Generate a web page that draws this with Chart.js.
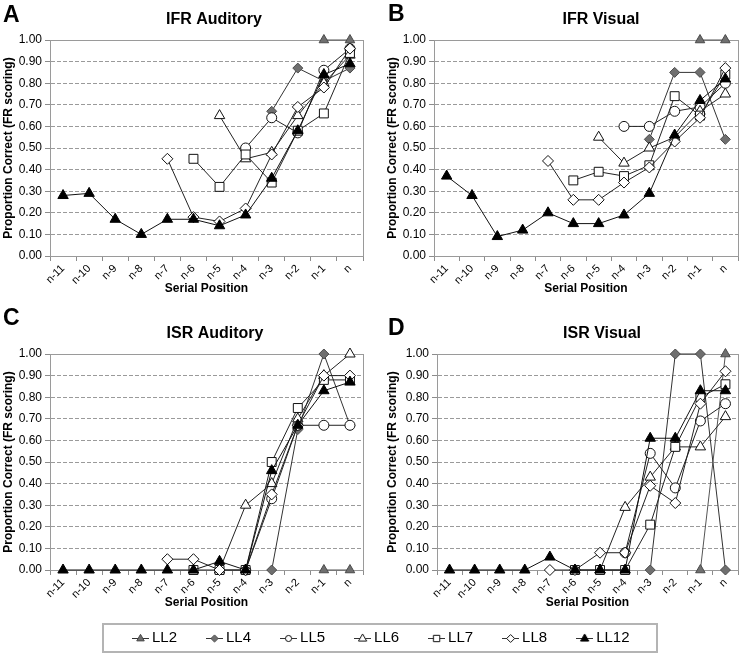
<!DOCTYPE html>
<html>
<head>
<meta charset="utf-8">
<script src="https://cdn.jsdelivr.net/npm/chart.js@4.4.0/dist/chart.umd.min.js"></script>
<style>
body { margin: 0; background: #fff; width: 750px; height: 654px; position: relative; overflow: hidden; }
canvas { position: absolute; }
#legendBox { position: absolute; left: 102px; top: 623px; width: 552px; height: 26px; border: 2px solid #b4b4b4; }
</style>
</head>
<body>
<div id="legendBox"></div>
<canvas id="chartA" width="375" height="300" style="left:0px;top:0px"></canvas>
<canvas id="chartB" width="375" height="300" style="left:375px;top:0px"></canvas>
<canvas id="chartC" width="375" height="314" style="left:0px;top:300px"></canvas>
<canvas id="chartD" width="375" height="314" style="left:375px;top:300px"></canvas>
<canvas id="legendChart" width="742" height="100" style="left:12px;top:597px"></canvas>
<script>
var FONT = '"Liberation Sans", Arial, sans-serif';

var positions = ['n-11', 'n-10', 'n-9', 'n-8', 'n-7', 'n-6', 'n-5', 'n-4', 'n-3', 'n-2', 'n-1', 'n'];
var seriesNames = ['LL2', 'LL4', 'LL5', 'LL6', 'LL7', 'LL8', 'LL12'];

// A - IFR Auditory
var ifrAudLL2  = [null, null, null, null, null, null, null, null, null, null, 1.00, 1.00];
var ifrAudLL4  = [null, null, null, null, null, null, null, null, 0.67, 0.87, 0.81, 0.87];
var ifrAudLL5  = [null, null, null, null, null, null, null, 0.50, 0.64, 0.57, 0.86, 0.96];
var ifrAudLL6  = [null, null, null, null, null, null, 0.65, 0.45, 0.48, 0.65, 0.80, 0.93];
var ifrAudLL7  = [null, null, null, null, null, 0.45, 0.32, 0.47, 0.34, 0.58, 0.66, 0.94];
var ifrAudLL8  = [null, null, null, null, 0.45, 0.18, 0.16, 0.22, 0.47, 0.69, 0.78, 0.96];
var ifrAudLL12 = [0.28, 0.29, 0.17, 0.10, 0.17, 0.17, 0.14, 0.19, 0.36, 0.58, 0.84, 0.89];

// B - IFR Visual
var ifrVisLL2  = [null, null, null, null, null, null, null, null, null, null, 1.00, 1.00];
var ifrVisLL4  = [null, null, null, null, null, null, null, null, 0.54, 0.85, 0.85, 0.54];
var ifrVisLL5  = [null, null, null, null, null, null, null, 0.60, 0.60, 0.67, 0.69, 0.80];
var ifrVisLL6  = [null, null, null, null, null, null, 0.55, 0.43, 0.50, 0.55, 0.67, 0.75];
var ifrVisLL7  = [null, null, null, null, null, 0.35, 0.39, 0.37, 0.42, 0.74, 0.65, 0.84];
var ifrVisLL8  = [null, null, null, null, 0.44, 0.26, 0.26, 0.34, 0.41, 0.53, 0.64, 0.87];
var ifrVisLL12 = [0.37, 0.28, 0.09, 0.12, 0.20, 0.15, 0.15, 0.19, 0.29, 0.56, 0.72, 0.82];

// C - ISR Auditory
var isrAudLL2  = [null, null, null, null, null, null, null, null, null, null, 0.00, 0.00];
var isrAudLL4  = [null, null, null, null, null, null, null, null, 0.00, 0.65, 1.00, 0.67];
var isrAudLL5  = [null, null, null, null, null, null, null, 0.00, 0.33, 0.67, 0.67, 0.67];
var isrAudLL6  = [null, null, null, null, null, null, 0.00, 0.30, 0.40, 0.70, 0.90, 1.00];
var isrAudLL7  = [null, null, null, null, null, 0.00, 0.00, 0.00, 0.50, 0.75, 0.88, 0.88];
var isrAudLL8  = [null, null, null, null, 0.05, 0.05, 0.00, 0.00, 0.35, 0.67, 0.90, 0.90];
var isrAudLL12 = [0.00, 0.00, 0.00, 0.00, 0.00, 0.00, 0.04, 0.00, 0.46, 0.67, 0.83, 0.87];

// D - ISR Visual
var isrVisLL2  = [null, null, null, null, null, null, null, null, null, null, 0.00, 1.00];
var isrVisLL4  = [null, null, null, null, null, null, null, null, 0.00, 1.00, 1.00, 0.00];
var isrVisLL5  = [null, null, null, null, null, null, null, 0.08, 0.54, 0.38, 0.69, 0.77];
var isrVisLL6  = [null, null, null, null, null, null, 0.00, 0.29, 0.43, 0.57, 0.57, 0.71];
var isrVisLL7  = [null, null, null, null, null, 0.00, 0.00, 0.00, 0.21, 0.57, 0.80, 0.86];
var isrVisLL8  = [null, null, null, null, 0.00, 0.00, 0.08, 0.08, 0.39, 0.31, 0.77, 0.92];
var isrVisLL12 = [0.00, 0.00, 0.00, 0.00, 0.06, 0.00, 0.00, 0.00, 0.61, 0.61, 0.83, 0.83];

var seriesLook = [
    { shape: 'triangle', radius: 5.5, fill: '#6f6f6f', edge: '#4a4a4a', line: '#555' },
    { shape: 'rectRot',  radius: 5,   fill: '#6f6f6f', edge: '#4a4a4a', line: '#333' },
    { shape: 'circle',   radius: 5,   fill: '#ffffff', edge: '#111',    line: '#222' },
    { shape: 'triangle', radius: 6,   fill: '#ffffff', edge: '#111',    line: '#222' },
    { shape: 'rect',     radius: 6.3, fill: '#ffffff', edge: '#111',    line: '#222' },
    { shape: 'rectRot',  radius: 5.5, fill: '#ffffff', edge: '#111',    line: '#222' },
    { shape: 'triangle', radius: 6,   fill: '#000000', edge: '#000',    line: '#111' }
];

var panels = [
    { canvas: 'chartA', letter: 'A', title: 'IFR Auditory', padLeft: 0, padTop: 40, axisWidth: 50,
      letterX: 3, letterY: 22, titleX: 214, titleY: 24,
      series: [ifrAudLL2, ifrAudLL4, ifrAudLL5, ifrAudLL6, ifrAudLL7, ifrAudLL8, ifrAudLL12] },
    { canvas: 'chartB', letter: 'B', title: 'IFR Visual', padLeft: 9, padTop: 40, axisWidth: 50,
      letterX: 13, letterY: 21, titleX: 226, titleY: 24,
      series: [ifrVisLL2, ifrVisLL4, ifrVisLL5, ifrVisLL6, ifrVisLL7, ifrVisLL8, ifrVisLL12] },
    { canvas: 'chartC', letter: 'C', title: 'ISR Auditory', padLeft: 0, padTop: 54, axisWidth: 50,
      letterX: 3, letterY: 25, titleX: 215, titleY: 38,
      series: [isrAudLL2, isrAudLL4, isrAudLL5, isrAudLL6, isrAudLL7, isrAudLL8, isrAudLL12] },
    { canvas: 'chartD', letter: 'D', title: 'ISR Visual', padLeft: 9, padTop: 54, axisWidth: 53,
      letterX: 13, letterY: 35, titleX: 227, titleY: 38,
      series: [isrVisLL2, isrVisLL4, isrVisLL5, isrVisLL6, isrVisLL7, isrVisLL8, isrVisLL12] }
];

/* plot frame, panel letter and panel title */
var panelDecor = {
    id: 'panelDecor',
    beforeDatasetsDraw: function (chart) {
        var a = chart.chartArea;
        var ctx = chart.ctx;
        ctx.save();
        ctx.strokeStyle = '#9a9a9a';
        ctx.lineWidth = 1;
        ctx.strokeRect(Math.round(a.left) + 0.5, Math.round(a.top) + 0.5,
                       Math.round(a.right - a.left), Math.round(a.bottom - a.top));
        ctx.restore();
    },
    afterDraw: function (chart, args, opts) {
        if (!opts || !opts.title) return;
        var ctx = chart.ctx;
        ctx.save();
        ctx.fillStyle = '#000';
        ctx.textBaseline = 'alphabetic';
        ctx.textAlign = 'left';
        ctx.font = 'bold 23px ' + FONT;
        ctx.fillText(opts.letter, opts.letterX, opts.letterY);
        ctx.textAlign = 'center';
        ctx.font = 'bold 16px ' + FONT;
        ctx.fillText(opts.title, opts.titleX, opts.titleY);
        ctx.restore();
    }
};

function buildDatasets(seriesList) {
    var sets = [];
    for (var i = 0; i < seriesNames.length; i++) {
        var look = seriesLook[i];
        sets.push({
            label: seriesNames[i],
            data: seriesList ? seriesList[i] : [],
            order: seriesNames.length - 1 - i,   // later series on top, like the original
            borderColor: look.line,
            borderWidth: 1,
            tension: 0,
            fill: false,
            clip: false,
            pointStyle: look.shape,
            pointRadius: look.radius,
            pointHoverRadius: look.radius,
            pointBackgroundColor: look.fill,
            pointBorderColor: look.edge,
            pointBorderWidth: 1
        });
    }
    return sets;
}

function makePanel(p) {
    return new Chart(document.getElementById(p.canvas), {
        type: 'line',
        data: { labels: positions, datasets: buildDatasets(p.series) },
        options: {
            responsive: false,
            animation: false,
            events: [],
            layout: { padding: { left: p.padLeft, top: p.padTop, right: 12, bottom: 0 } },
            plugins: {
                legend: { display: false },
                tooltip: { enabled: false },
                panelDecor: { letter: p.letter, title: p.title, letterX: p.letterX, letterY: p.letterY,
                              titleX: p.titleX, titleY: p.titleY }
            },
            scales: {
                x: {
                    type: 'category',
                    offset: true,
                    afterFit: function (scale) { scale.height = 44; },
                    grid: { display: true, drawOnChartArea: false, offset: true, tickLength: 5, tickColor: '#8c8c8c' },
                    border: { color: '#8c8c8c' },
                    ticks: { autoSkip: false, minRotation: 45, maxRotation: 45, padding: 1, color: '#000',
                             font: { family: FONT, size: 11 } },
                    title: { display: true, text: 'Serial Position', color: '#000',
                             font: { family: FONT, size: 12, weight: 'bold' }, padding: { top: 0, bottom: 4 } }
                },
                y: {
                    min: 0,
                    max: 1,
                    afterFit: function (scale) { scale.width = p.axisWidth; },
                    ticks: { stepSize: 0.1, padding: 3, color: '#000', font: { family: FONT, size: 12 },
                             callback: function (v) { return Number(v).toFixed(2); } },
                    grid: { color: '#9a9a9a', tickLength: 5, tickColor: '#8c8c8c' },
                    border: { color: '#8c8c8c', dash: [4, 2] },
                    title: { display: true, text: 'Proportion Correct (FR scoring)', color: '#000',
                             font: { family: FONT, size: 12, weight: 'bold' }, padding: { top: 1, bottom: 0 } }
                }
            }
        },
        plugins: [panelDecor]
    });
}

panels.forEach(makePanel);

/* legend icons: short line with the marker on it */
function legendIcon(look) {
    var c = document.createElement('canvas');
    c.width = 17;
    c.height = 12;
    var g = c.getContext('2d');
    g.strokeStyle = '#333';
    g.lineWidth = 1;
    g.beginPath();
    g.moveTo(0, 6.5);
    g.lineTo(17, 6.5);
    g.stroke();
    g.fillStyle = look.fill;
    g.strokeStyle = look.edge;
    var r = look.radius * 0.72;
    var cx = 8.5, cy = 6.5;
    g.beginPath();
    if (look.shape === 'triangle') {
        g.moveTo(cx, cy - r * 1.05);
        g.lineTo(cx + r * 0.95, cy + r * 0.6);
        g.lineTo(cx - r * 0.95, cy + r * 0.6);
        g.closePath();
    } else if (look.shape === 'rectRot') {
        g.moveTo(cx, cy - r);
        g.lineTo(cx + r, cy);
        g.lineTo(cx, cy + r);
        g.lineTo(cx - r, cy);
        g.closePath();
    } else if (look.shape === 'circle') {
        g.arc(cx, cy, r * 0.85, 0, Math.PI * 2);
    } else {
        g.rect(cx - r * 0.7, cy - r * 0.7, r * 1.4, r * 1.4);
    }
    g.fill();
    g.stroke();
    return c;
}

new Chart(document.getElementById('legendChart'), {
    type: 'line',
    data: { labels: [], datasets: buildDatasets(null) },
    options: {
        responsive: false,
        animation: false,
        events: [],
        layout: { padding: 0 },
        scales: { x: { display: false }, y: { display: false } },
        plugins: {
            tooltip: { enabled: false },
            legend: {
                display: true,
                position: 'top',
                labels: {
                    usePointStyle: true,
                    pointStyleWidth: 8,
                    padding: 33.5,
                    color: '#000',
                    font: { family: FONT, size: 15 },
                    generateLabels: function () {
                        return seriesNames.map(function (name, i) {
                            return { text: name, pointStyle: legendIcon(seriesLook[i]), fillStyle: seriesLook[i].fill,
                                     strokeStyle: seriesLook[i].edge, lineWidth: 0, hidden: false, datasetIndex: i };
                        });
                    }
                }
            }
        }
    }
});
</script>
</body>
</html>
